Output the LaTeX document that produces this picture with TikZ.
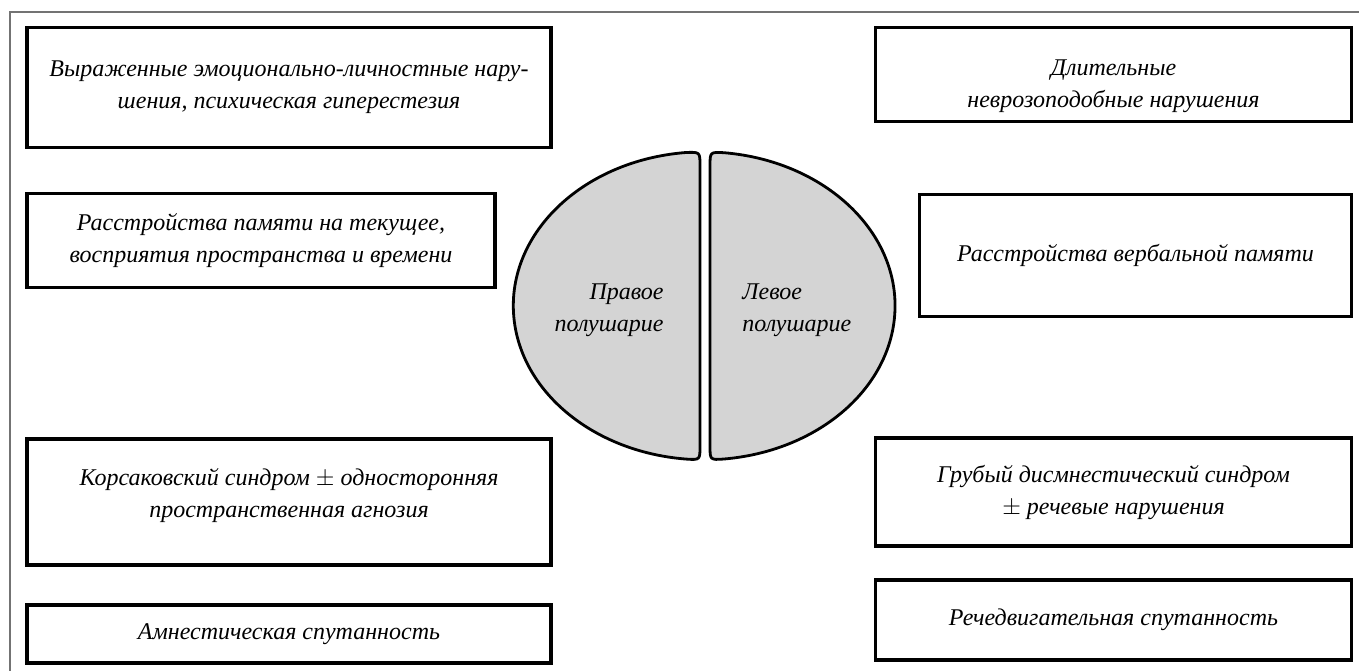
\documentclass[tikz,border=0pt]{standalone}
\usepackage{fontspec}
\setmainfont{Liberation Serif}[ItalicFont={Liberation Serif Italic}]
\usepackage{tikz}
\tikzstyle{symptom} = [rectangle, draw=black, line width=1.8pt, fill=white, inner sep=0pt, align=center, font=\fontsize{12}{16}\selectfont\itshape]
\tikzstyle{symtext} = [inner sep=0pt, align=center, font=\fontsize{12}{16}\selectfont\itshape]
\tikzstyle{half} = [draw=black, line width=1.4pt, fill=black!17]
\tikzstyle{halflabel} = [inner sep=0pt, font=\fontsize{12}{16}\selectfont\itshape]
\begin{document}
\begin{tikzpicture}[x=0.5pt, y=0.5pt]
	\useasboundingbox (0,0) rectangle (1359,670);
	% outer frame
	\draw[black!55, line width=0.8pt] (10,-5) -- (10,658) -- (1365,658);
	
	% left column
	\node[symptom, minimum width=262pt, minimum height=60pt] (emotion) at (289,582.5) {Выраженные эмоционально-личностные нару-\\шения, психическая гиперестезия};
	\node[symptom, minimum width=234pt, minimum height=47pt] (memory) at (261,429.5) {Расстройства памяти на текущее,\\восприятия пространства и времени};
	\node[symptom, minimum width=262pt, minimum height=63pt] (korsakov) at (289,168) {};
	\node[symtext] (korsakov_text) at ([yshift=3pt]korsakov.center) {Корсаковский синдром $\pm$ односторонняя\\пространственная агнозия};
	\node[symptom, minimum width=262pt, minimum height=29pt] (amnestic) at (289,36) {Амнестическая спутанность};
	
	% right column
	\node[symptom, minimum width=238pt, minimum height=47pt] (neurosis) at (1113.5,595.5) {};
	\node[symtext] (neurosis_text) at ([yshift=-6pt]neurosis.center) {Длительные\\неврозоподобные нарушения};
	\node[symptom, minimum width=216pt, minimum height=61pt] (verbal) at (1135.5,414.5) {Расстройства вербальной памяти};
	\node[symptom, minimum width=238pt, minimum height=54pt] (dysmnestic) at (1113.5,178) {Грубый дисмнестический синдром\\$\pm$ речевые нарушения};
	\node[symptom, minimum width=238pt, minimum height=40pt] (speech) at (1113.5,50) {Речедвигательная спутанность};
	
	% hemispheres
	\draw[half] (700,364) -- (700,504) .. controls (700,518) .. (686,517.5)
		arc[start angle=95.5, end angle=264.5, x radius=191, y radius=154]
		.. controls (700,210) .. (700,224) -- cycle;
	\draw[half] (710,364) -- (710,504) .. controls (710,518) .. (724,517.3)
		arc[start angle=84.0, end angle=-84.0, x radius=191, y radius=154]
		.. controls (710,210) .. (710,224) -- cycle;
	\node[halflabel, anchor=east, align=right] (right_half) at (664,360) {Правое\\полушарие};
	\node[halflabel, anchor=west, align=left] (left_half) at (742,360) {Левое\\полушарие};
\end{tikzpicture}
\end{document}
